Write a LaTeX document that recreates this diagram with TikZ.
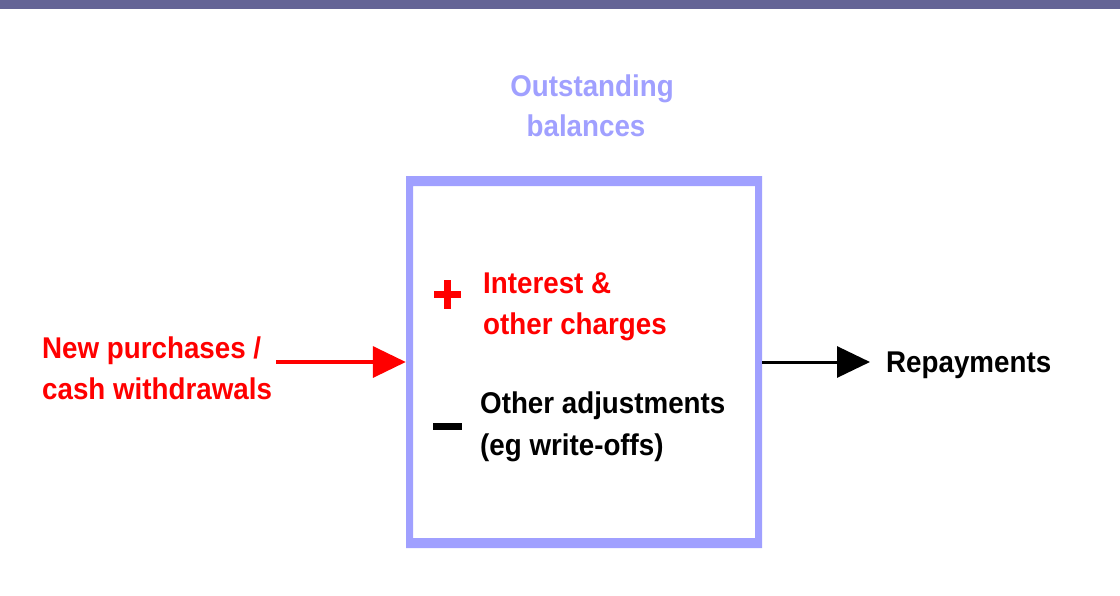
\documentclass[tikz,border=0pt]{standalone}
\usepackage{fontspec}
\usetikzlibrary{arrows.meta}
\newfontfamily\arfont[FakeStretch=0.925]{Liberation Sans}
\definecolor{barblue}{HTML}{646496}
\definecolor{boxblue}{HTML}{A0A0FF}
\definecolor{redc}{HTML}{FF0000}
\tikzset{
  lbl/.style={anchor=base west, inner sep=0pt, font=\arfont\fontsize{30}{41}\selectfont\bfseries},
  clbl/.style={lbl, anchor=base},
  bigarrow/.style={-{Triangle[length=33pt,width=31pt]}},
}
\begin{document}
\begin{tikzpicture}[x=1pt,y=-1pt]
\useasboundingbox (0,0) rectangle (1120,595);
\fill[white] (0,0) rectangle (1120,595);
% top bar
\fill[barblue] (0,0) rectangle (1120,9);
% box frame
\fill[boxblue, even odd rule] (406,176) rectangle (762,548) (413,186) rectangle (755,538);
\node[inner sep=0pt, minimum width=356pt, minimum height=372pt] (box) at (584,362) {};
% title
\node[clbl, text=boxblue] (t1) at (592,96) {Outstanding};
\node[clbl, text=boxblue] (t2) at (586,136) {balances};
% left labels
\node[lbl, text=redc] (np1) at (42,358) {New purchases /};
\node[lbl, text=redc] (np2) at (42,399) {cash withdrawals};
% inside
\node[lbl, text=redc] (ic1) at (483,293) {Interest \&};
\node[lbl, text=redc] (ic2) at (483,334) {other charges};
\node[lbl] (oa1) at (480,413) {Other adjustments};
\node[lbl] (oa2) at (480,455) {(eg write-offs)};
% plus and minus
\draw[redc, line width=7.5pt] (434,294.5) -- (461,294.5) (447.5,280) -- (447.5,309);
\fill[black] (433,423) rectangle (462,430);
% right label
\node[lbl] (rep) at (886,372) {Repayments};
% arrows
\coordinate (inA) at (276,362);
\coordinate (outB) at (870,362);
\draw[redc, line width=3.5pt, bigarrow] (inA) -- (box.west);
\draw[black, line width=3pt, bigarrow] (box.east) -- (outB);
\end{tikzpicture}
\end{document}
